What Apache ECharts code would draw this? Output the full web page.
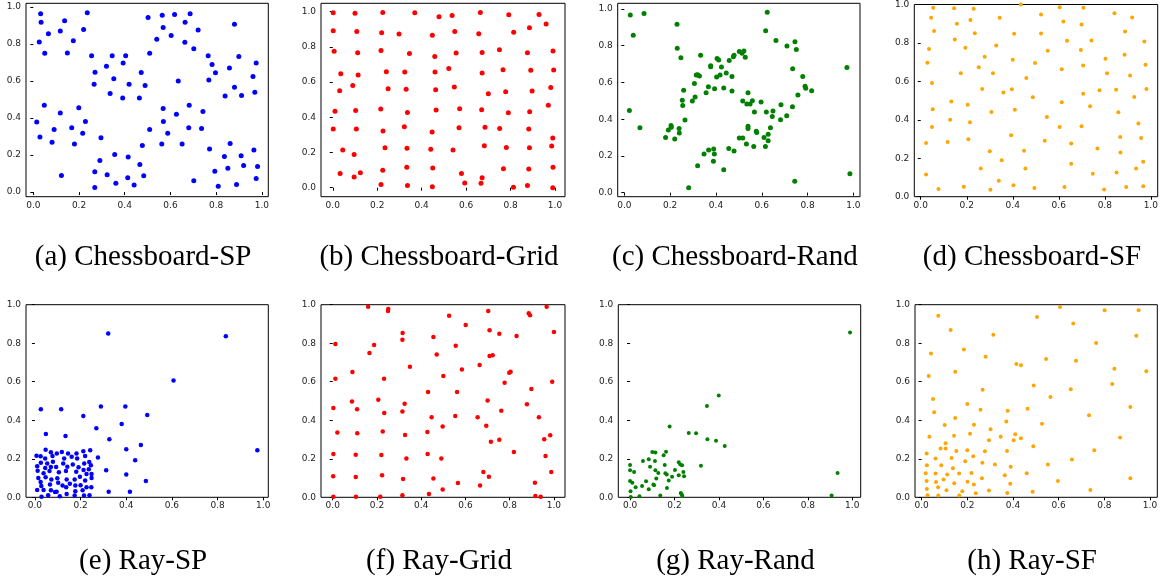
<!DOCTYPE html>
<html><head><meta charset="utf-8">
<script src="https://cdn.jsdelivr.net/npm/echarts@6/dist/echarts.min.js"></script>
<style>html,body{margin:0;padding:0;background:#fff}#c{width:1161px;height:576px}</style>
</head><body><div id="c"></div>
<script>
// ---------- DATA ----------
const tickValues = [0, 0.2, 0.4, 0.6, 0.8, 1.0];
const captions = ["(a) Chessboard-SP","(b) Chessboard-Grid","(c) Chessboard-Rand","(d) Chessboard-SF","(e) Ray-SP","(f) Ray-Grid","(g) Ray-Rand","(h) Ray-SF"];

const chessboardSP = [[0.032,0.964],[0.034,0.917],[0.066,0.855],[0.026,0.811],[0.050,0.750],[0.137,0.926],[0.118,0.871],[0.149,0.752],[0.175,0.817],[0.220,0.878],[0.236,0.969],[0.255,0.736],[0.270,0.648],[0.266,0.583],[0.320,0.680],[0.345,0.736],[0.352,0.612],[0.336,0.533],[0.393,0.698],[0.404,0.736],[0.419,0.583],[0.391,0.508],[0.472,0.646],[0.489,0.576],[0.464,0.508],[0.502,0.943],[0.509,0.750],[0.540,0.826],[0.564,0.955],[0.568,0.889],[0.603,0.846],[0.618,0.960],[0.664,0.917],[0.663,0.810],[0.634,0.600],[0.686,0.964],[0.702,0.774],[0.721,0.876],[0.765,0.736],[0.782,0.689],[0.797,0.645],[0.768,0.605],[0.880,0.907],[0.899,0.733],[0.858,0.671],[0.880,0.567],[0.839,0.519],[0.911,0.522],[0.975,0.697],[0.961,0.625],[0.969,0.539],[0.048,0.469],[0.015,0.379],[0.029,0.298],[0.091,0.338],[0.082,0.269],[0.118,0.427],[0.123,0.090],[0.168,0.347],[0.199,0.456],[0.228,0.381],[0.216,0.318],[0.180,0.260],[0.296,0.294],[0.291,0.171],[0.269,0.110],[0.269,0.025],[0.323,0.093],[0.356,0.203],[0.361,0.047],[0.415,0.190],[0.413,0.077],[0.441,0.038],[0.466,0.149],[0.477,0.251],[0.483,0.088],[0.509,0.338],[0.568,0.451],[0.569,0.382],[0.588,0.318],[0.562,0.260],[0.626,0.420],[0.651,0.260],[0.682,0.469],[0.680,0.347],[0.702,0.061],[0.742,0.436],[0.736,0.343],[0.771,0.233],[0.794,0.113],[0.809,0.031],[0.861,0.262],[0.836,0.192],[0.851,0.129],[0.889,0.041],[0.909,0.196],[0.920,0.144],[0.965,0.228],[0.981,0.138],[0.975,0.074]];

const chessboardGrid = [[0.002,0.994],[0.100,0.991],[0.225,0.996],[0.369,0.994],[0.478,0.972],[0.537,0.979],[0.664,0.996],[0.792,0.983],[0.928,0.985],[0.960,0.930],[0.002,0.892],[0.108,0.888],[0.220,0.881],[0.298,0.873],[0.448,0.866],[0.549,0.888],[0.657,0.875],[0.814,0.883],[0.885,0.909],[0.006,0.775],[0.112,0.767],[0.217,0.780],[0.345,0.763],[0.459,0.746],[0.555,0.765],[0.672,0.769],[0.750,0.784],[0.876,0.767],[0.991,0.777],[0.036,0.648],[0.114,0.640],[0.090,0.581],[0.031,0.551],[0.241,0.659],[0.324,0.657],[0.249,0.563],[0.330,0.559],[0.460,0.657],[0.522,0.678],[0.463,0.557],[0.547,0.572],[0.672,0.652],[0.700,0.534],[0.766,0.670],[0.778,0.545],[0.891,0.667],[0.897,0.549],[0.994,0.669],[0.981,0.570],[0.970,0.468],[0.010,0.434],[0.103,0.439],[0.216,0.447],[0.336,0.428],[0.465,0.441],[0.571,0.449],[0.670,0.443],[0.790,0.426],[0.886,0.432],[0.002,0.333],[0.106,0.333],[0.226,0.322],[0.322,0.347],[0.447,0.316],[0.568,0.341],[0.685,0.343],[0.751,0.337],[0.882,0.333],[0.990,0.282],[0.045,0.214],[0.096,0.189],[0.235,0.227],[0.334,0.225],[0.441,0.218],[0.541,0.214],[0.682,0.239],[0.781,0.229],[0.885,0.227],[0.985,0.237],[0.033,0.081],[0.124,0.085],[0.096,0.061],[0.225,0.100],[0.333,0.116],[0.450,0.112],[0.579,0.081],[0.672,0.057],[0.768,0.108],[0.882,0.106],[0.991,0.116],[0.217,0.019],[0.336,0.013],[0.448,0.006],[0.594,0.027],[0.667,0.025],[0.813,0.002],[0.876,0.013],[0.990,0.000]];

const chessboardRand = [[0.026,0.967],[0.039,0.857],[0.086,0.976],[0.022,0.448],[0.068,0.354],[0.230,0.917],[0.231,0.786],[0.247,0.735],[0.333,0.748],[0.259,0.557],[0.253,0.503],[0.255,0.475],[0.265,0.396],[0.180,0.301],[0.192,0.341],[0.204,0.365],[0.205,0.356],[0.239,0.350],[0.240,0.325],[0.220,0.292],[0.281,0.027],[0.306,0.595],[0.309,0.521],[0.297,0.499],[0.314,0.641],[0.320,0.642],[0.328,0.635],[0.377,0.691],[0.377,0.686],[0.405,0.730],[0.412,0.722],[0.424,0.684],[0.418,0.641],[0.403,0.630],[0.367,0.577],[0.357,0.544],[0.394,0.566],[0.434,0.570],[0.445,0.652],[0.458,0.719],[0.470,0.633],[0.470,0.554],[0.476,0.740],[0.479,0.748],[0.502,0.768],[0.514,0.759],[0.522,0.771],[0.528,0.737],[0.517,0.499],[0.540,0.544],[0.535,0.483],[0.549,0.483],[0.559,0.501],[0.568,0.439],[0.597,0.494],[0.540,0.361],[0.540,0.350],[0.576,0.334],[0.578,0.327],[0.638,0.354],[0.628,0.318],[0.610,0.301],[0.628,0.283],[0.616,0.252],[0.565,0.252],[0.533,0.265],[0.502,0.298],[0.517,0.298],[0.348,0.211],[0.368,0.232],[0.390,0.238],[0.393,0.211],[0.389,0.171],[0.320,0.147],[0.434,0.125],[0.456,0.240],[0.479,0.227],[0.617,0.882],[0.624,0.982],[0.662,0.829],[0.710,0.799],[0.745,0.822],[0.751,0.780],[0.735,0.675],[0.779,0.633],[0.789,0.579],[0.792,0.568],[0.818,0.555],[0.758,0.532],[0.620,0.439],[0.649,0.445],[0.646,0.414],[0.684,0.479],[0.682,0.397],[0.709,0.419],[0.734,0.468],[0.744,0.062],[0.972,0.682],[0.985,0.103]];

const chessboardSF = [[0.054,0.983],[0.145,0.981],[0.230,0.978],[0.435,1.000],[0.604,0.986],[0.707,0.983],[0.045,0.931],[0.157,0.900],[0.216,0.920],[0.343,0.931],[0.523,0.948],[0.620,0.912],[0.699,0.896],[0.842,0.955],[0.919,0.933],[0.058,0.862],[0.235,0.851],[0.406,0.848],[0.523,0.849],[0.888,0.860],[0.148,0.818],[0.036,0.768],[0.194,0.775],[0.328,0.787],[0.552,0.760],[0.636,0.811],[0.742,0.813],[0.696,0.763],[0.972,0.808],[0.029,0.697],[0.278,0.728],[0.400,0.713],[0.497,0.696],[0.803,0.718],[0.886,0.739],[0.977,0.687],[0.174,0.642],[0.252,0.673],[0.314,0.642],[0.613,0.663],[0.706,0.683],[0.810,0.642],[0.910,0.630],[0.049,0.592],[0.459,0.618],[0.267,0.561],[0.359,0.542],[0.396,0.559],[0.487,0.517],[0.613,0.491],[0.706,0.536],[0.777,0.554],[0.849,0.557],[0.928,0.519],[0.981,0.561],[0.133,0.495],[0.052,0.455],[0.204,0.478],[0.307,0.441],[0.409,0.452],[0.548,0.415],[0.736,0.471],[0.859,0.439],[0.128,0.400],[0.049,0.362],[0.214,0.388],[0.604,0.363],[0.699,0.367],[0.946,0.381],[0.023,0.279],[0.117,0.284],[0.207,0.299],[0.393,0.320],[0.539,0.291],[0.654,0.277],[0.867,0.310],[0.958,0.306],[0.300,0.237],[0.449,0.239],[0.768,0.251],[0.868,0.230],[0.352,0.189],[0.261,0.147],[0.455,0.147],[0.654,0.171],[0.967,0.182],[0.023,0.116],[0.748,0.119],[0.851,0.126],[0.936,0.147],[0.077,0.040],[0.187,0.052],[0.303,0.036],[0.339,0.083],[0.403,0.059],[0.494,0.045],[0.625,0.050],[0.797,0.038],[0.893,0.050],[0.967,0.054]];

const raySP = [[0.321,0.851],[0.836,0.836],[0.607,0.606],[0.974,0.244],[0.026,0.457],[0.115,0.457],[0.212,0.422],[0.289,0.472],[0.396,0.472],[0.492,0.427],[0.269,0.358],[0.380,0.381],[0.048,0.329],[0.134,0.318],[0.326,0.301],[0.464,0.272],[0.400,0.249],[0.276,0.206],[0.439,0.192],[0.312,0.140],[0.400,0.119],[0.486,0.085],[0.323,0.029],[0.416,0.029],[0.047,0.247],[0.242,0.244],[0.212,0.239],[0.118,0.235],[0.070,0.234],[0.096,0.227],[0.145,0.228],[0.182,0.228],[0.007,0.216],[0.025,0.213],[0.077,0.215],[0.161,0.211],[0.220,0.215],[0.045,0.201],[0.128,0.202],[0.185,0.201],[0.026,0.180],[0.054,0.176],[0.079,0.185],[0.124,0.175],[0.166,0.170],[0.216,0.176],[0.238,0.183],[0.245,0.166],[0.010,0.161],[0.045,0.152],[0.070,0.157],[0.093,0.157],[0.142,0.159],[0.191,0.156],[0.236,0.145],[0.213,0.142],[0.012,0.138],[0.038,0.125],[0.064,0.137],[0.105,0.130],[0.136,0.137],[0.181,0.133],[0.226,0.121],[0.248,0.121],[0.015,0.100],[0.047,0.104],[0.072,0.093],[0.098,0.099],[0.139,0.093],[0.174,0.093],[0.197,0.107],[0.220,0.087],[0.248,0.100],[0.025,0.080],[0.102,0.076],[0.066,0.067],[0.121,0.061],[0.153,0.071],[0.177,0.061],[0.200,0.062],[0.028,0.059],[0.010,0.038],[0.038,0.038],[0.070,0.036],[0.095,0.029],[0.137,0.052],[0.177,0.031],[0.209,0.036],[0.226,0.052],[0.247,0.052],[0.029,0.003],[0.058,0.010],[0.109,0.005],[0.139,0.017],[0.174,0.009],[0.215,0.009],[0.239,0.010],[0.088,0.028]];

const rayGrid = [[0.160,0.990],[0.251,0.978],[0.250,0.967],[0.526,0.943],[0.601,0.894],[0.703,0.967],[0.886,0.955],[0.892,0.945],[0.967,0.990],[0.316,0.853],[0.315,0.818],[0.455,0.832],[0.709,0.867],[0.753,0.849],[0.831,0.837],[1.000,0.858],[0.012,0.796],[0.187,0.791],[0.166,0.749],[0.470,0.742],[0.556,0.787],[0.709,0.734],[0.723,0.737],[0.349,0.678],[0.584,0.664],[0.664,0.687],[0.089,0.651],[0.012,0.616],[0.232,0.616],[0.500,0.630],[0.798,0.647],[0.804,0.652],[0.777,0.595],[0.992,0.600],[0.898,0.562],[0.431,0.547],[0.562,0.547],[0.087,0.497],[0.206,0.507],[0.325,0.486],[0.700,0.503],[0.878,0.483],[0.003,0.464],[0.110,0.457],[0.233,0.438],[0.315,0.446],[0.447,0.415],[0.554,0.422],[0.655,0.415],[0.762,0.450],[0.932,0.415],[0.694,0.372],[0.497,0.367],[0.021,0.337],[0.111,0.332],[0.226,0.341],[0.327,0.324],[0.428,0.339],[0.715,0.289],[0.753,0.299],[0.956,0.301],[0.983,0.322],[0.819,0.235],[0.003,0.225],[0.104,0.221],[0.220,0.220],[0.333,0.201],[0.429,0.225],[0.491,0.202],[0.962,0.215],[0.002,0.109],[0.104,0.106],[0.223,0.114],[0.318,0.095],[0.455,0.097],[0.566,0.074],[0.681,0.131],[0.706,0.107],[0.666,0.061],[0.914,0.076],[0.988,0.131],[0.003,0.003],[0.105,0.003],[0.215,0.003],[0.315,0.010],[0.435,0.017],[0.497,0.040],[0.916,0.007],[0.940,0.003]];

const rayRand = [[0.990,0.856],[0.399,0.529],[0.346,0.474],[0.178,0.367],[0.264,0.334],[0.297,0.332],[0.348,0.301],[0.387,0.294],[0.426,0.266],[0.319,0.164],[0.934,0.126],[0.907,0.009],[0.100,0.235],[0.114,0.232],[0.162,0.237],[0.151,0.218],[0.084,0.197],[0.058,0.189],[0.112,0.189],[0.000,0.168],[0.090,0.159],[0.156,0.168],[0.219,0.182],[0.226,0.170],[0.234,0.166],[0.000,0.140],[0.018,0.131],[0.114,0.140],[0.127,0.126],[0.159,0.125],[0.165,0.119],[0.202,0.142],[0.240,0.131],[0.243,0.109],[0.219,0.114],[0.189,0.107],[0.118,0.097],[0.174,0.087],[0.000,0.085],[0.010,0.076],[0.072,0.083],[0.105,0.066],[0.108,0.062],[0.054,0.059],[0.025,0.052],[0.084,0.042],[0.166,0.048],[0.002,0.031],[0.042,0.005],[0.003,0.002],[0.136,0.009],[0.228,0.022],[0.232,0.016],[0.235,0.007]];

const raySF = [[0.073,0.943],[0.127,0.869],[0.314,0.844],[0.505,0.936],[0.606,0.988],[0.664,0.903],[0.801,0.971],[0.950,0.971],[0.940,0.839],[0.764,0.801],[0.041,0.747],[0.185,0.768],[0.280,0.730],[0.545,0.718],[0.415,0.692],[0.435,0.685],[0.676,0.709],[0.844,0.668],[0.147,0.652],[0.031,0.630],[0.984,0.654],[0.267,0.559],[0.491,0.581],[0.835,0.588],[0.653,0.561],[0.564,0.521],[0.050,0.510],[0.200,0.484],[0.055,0.441],[0.258,0.455],[0.377,0.450],[0.464,0.460],[0.914,0.469],[0.733,0.426],[0.147,0.412],[0.101,0.375],[0.229,0.377],[0.371,0.393],[0.527,0.382],[0.302,0.353],[0.034,0.315],[0.142,0.320],[0.212,0.330],[0.346,0.315],[0.410,0.327],[0.435,0.306],[0.403,0.296],[0.295,0.296],[0.869,0.310],[0.105,0.280],[0.083,0.253],[0.105,0.254],[0.152,0.240],[0.200,0.244],[0.277,0.239],[0.374,0.240],[0.489,0.265],[0.756,0.244],[0.022,0.227],[0.061,0.201],[0.131,0.204],[0.226,0.213],[0.191,0.187],[0.266,0.180],[0.023,0.166],[0.086,0.166],[0.321,0.170],[0.390,0.159],[0.553,0.170],[0.658,0.196],[0.018,0.125],[0.061,0.123],[0.112,0.118],[0.137,0.151],[0.164,0.123],[0.218,0.126],[0.364,0.114],[0.460,0.125],[0.022,0.085],[0.063,0.080],[0.096,0.092],[0.143,0.073],[0.201,0.081],[0.264,0.099],[0.229,0.066],[0.388,0.071],[0.597,0.085],[0.914,0.099],[0.023,0.043],[0.072,0.052],[0.109,0.036],[0.178,0.031],[0.295,0.035],[0.237,0.021],[0.375,0.022],[0.486,0.029],[0.739,0.038],[0.026,0.010],[0.073,0.009],[0.165,0.009]];

// ---------- LAYOUT ----------
const panels = [
  {data: chessboardSP,   color:'#0000ff', size:5,   box:[26,   3.3, 242.3, 193.4], x:[-0.032,1.028], y:[-0.025,1.02]},
  {data: chessboardGrid, color:'#ff0000', size:5,   box:[321,  3.3, 244,   193.4], x:[-0.053,1.045], y:[-0.051,1.048]},
  {data: chessboardRand, color:'#008000', size:5,   box:[617.7,3.3, 242.3, 193.4], x:[-0.029,1.029], y:[-0.022,1.031]},
  {data: chessboardSF,   color:'#ffa500', size:4,   box:[914.3,3.7, 243.4, 193],   x:[-0.028,1.030], y:[0,1]},
  {data: raySP,          color:'#0000ff', size:4.5, box:[26,   304.7,242.3, 192.6], x:[-0.039,1.022], y:[0,1]},
  {data: rayGrid,        color:'#ff0000', size:4.5, box:[321,  304.7,244,   192.6], x:[-0.053,1.050], y:[0,1]},
  {data: rayRand,        color:'#008000', size:4,   box:[618.3,304.7,242.4, 192.6], x:[-0.053,1.038], y:[0,1]},
  {data: raySF,          color:'#ffa500', size:4,   box:[915,  304.7,242.3, 192.6], x:[-0.029,1.032], y:[0,1]}
];

const chart = echarts.init(document.getElementById('c'), null, {renderer:'canvas'});
const grid = [], xAxis = [], yAxis = [], series = [], graphic = [];
const labelStyle = {fontFamily:'DejaVu Sans', fontSize:9, color:'#222'};
panels.forEach((p, i) => {
  const [l,t,w,h] = p.box;
  grid.push({left:l, top:t, width:w, height:h, show:true, borderColor:'#000', borderWidth:1, backgroundColor:'#fff'});
  const common = {
    axisLine:{show:false},
    splitLine:{show:false},
    axisTick:{show:true, length:3, lineStyle:{color:'#000', width:1}, customValues: tickValues},
  };
  xAxis.push(Object.assign({type:'value', gridIndex:i, min:p.x[0], max:p.x[1],
    axisLabel:Object.assign({margin:4, customValues: tickValues, formatter:v=>v.toFixed(1)}, labelStyle)}, common));
  yAxis.push(Object.assign({type:'value', gridIndex:i, min:p.y[0], max:p.y[1],
    axisLabel:Object.assign({margin:5, customValues: tickValues, formatter:v=>v.toFixed(1)}, labelStyle)}, common));
  series.push({type:'scatter', xAxisIndex:i, yAxisIndex:i, data:p.data, symbolSize:p.size,
    itemStyle:{color:p.color, opacity:1}, silent:true, animation:false});
  const cx = l + w/2 - 4;
  const cy = i < 4 ? 257 : 561;
  graphic.push({type:'text', x:cx, y:cy, style:{text:captions[i], font:'29px "Liberation Serif"', fill:'#000', align:'center', verticalAlign:'middle'}});
});
chart.setOption({animation:false, grid, xAxis, yAxis, series, graphic});
</script>
</body></html>
